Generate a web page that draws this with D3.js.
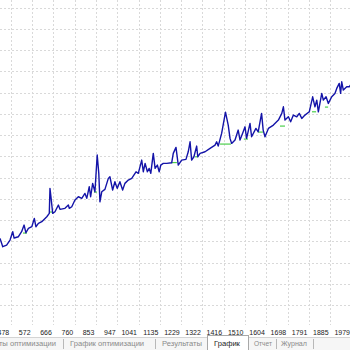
<!DOCTYPE html>
<html>
<head>
<meta charset="utf-8">
<style>
  body { margin: 0; background: #fff; }
  .grid line { stroke: #d9d9d9; stroke-width: 1; stroke-dasharray: 2,2; shape-rendering: crispEdges; }
  .balance { fill: none; stroke: #1414a8; stroke-width: 1.4px; stroke-linejoin: round; }
  .equity { fill: none; stroke: #4ccf4c; stroke-width: 1.2px; }
  .tick-lbl { font: 7px "Liberation Sans Narrow", "Arial Narrow", "Liberation Sans", Arial, sans-serif; fill: #222; }
  .tab { font: 7.6px "Liberation Sans", Arial, sans-serif; fill: #8a8a8a; }
  .tab.active { fill: #1a1a1a; }
</style>
</head>
<body>
<svg width="350" height="350"></svg>
<script src="https://d3js.org/d3.v7.min.js"></script>
<script>
// trade number / balance
var trades = [431,443,460,475,487,493,512,526,537,545,
  556,571,582,589,600,615,637,648,651,656,
  663,673,688,695,717,732,736,747,761,776,
  791,805,813,824,830,839,849,859,866,871,
  879,893,908,915,927,937,947,959,971,981,
  996,1011,1030,1040,1055,1062,1070,1080,1088,1095,
  1106,1114,1124,1132,1139,1150,1165,1187,1194,1206,
  1216,1231,1250,1260,1268,1275,1285,1297,1302,1312,
  1334,1356,1378,1385,1392,1407,1424,1436,1444,1451,
  1466,1480,1488,1502,1510,1517,1532,1539,1558,1568,
  1583,1590,1598,1613,1635,1657,1672,1679,1686,1701,
  1711,1723,1738,1749,1760,1774,1793,1808,1818,1826,
  1833,1848,1855,1867,1877,1892,1906,1914,1925,1931,
  1936,1943,1958,1969,1977];

var balance = [4145,3751,3831,4066,4456,4160,4221,4456,4771,4409,
  4615,4691,5085,4691,4850,4926,5161,5320,6495,6025,
  5320,5396,5711,5508,5555,5711,5555,5631,5946,6101,
  6025,6260,6025,6571,6101,6730,6336,8061,7200,5866,
  6336,6448,6965,7041,6416,6806,6495,6806,6416,6730,
  6886,6965,7276,7200,7826,7276,7670,7276,7435,7200,
  8140,7435,7591,7276,7591,7670,7670,7699,8140,8422,
  7591,7826,7858,8216,8686,7826,7981,8484,7981,8140,
  8216,8375,8531,8686,8484,9080,10082,9471,8845,8610,
  8766,9236,8766,9156,9391,8845,9550,8921,9315,9156,
  10020,9236,8921,9315,9471,9706,10020,10331,9706,9861,
  9626,9941,9861,10020,9785,9941,10096,10801,10331,10646,
  10096,10960,10646,10801,10490,10801,10960,11195,11430,10960,
  11506,11116,11271,11271,11398];

// flat equity stretches under the spikes
var equityStart = [532,647,845,1184,1290,1400,1505,1567,1664,1805,1862];
var equityEnd   = [550,660,858,1210,1303,1448,1523,1589,1686,1823,1876];
var equityLevel = [4395,5382,6322,7708,7981,8578,8813,9142,9424,10096,10317];

var xTicks = [478,572,666,760,853,947,1041,1135,1229,1322,1416,1510,1604,1698,1791,1885,1979];
var yTicks = [1000,2000,3000,4000,5000,6000,7000,8000,9000,10000,11000,12000,13000,14000,15000];

var tabNames = ["Результаты оптимизации", "График оптимизации", "Результаты", "График", "Отчет", "Журнал"];

var svg = d3.select("svg"),
    plotBottom = 325;

var x = d3.scaleLinear().domain([478, 1979]).range([10.7, 351.5]),
    y = d3.scaleLinear().domain([0, 15000]).range([326.5, 7.5]);

svg.append("rect").attr("width", 350).attr("height", 350).attr("fill", "#fff");

var grid = svg.append("g").attr("class", "grid");
grid.selectAll(".v").data(xTicks).enter().append("line")
    .attr("class", "v")
    .attr("x1", function(d) { return Math.round(x(d)) + 0.5; })
    .attr("x2", function(d) { return Math.round(x(d)) + 0.5; })
    .attr("y1", 0).attr("y2", plotBottom);
grid.selectAll(".h").data(yTicks).enter().append("line")
    .attr("class", "h")
    .attr("y1", function(d) { return Math.round(y(d)) + 0.5; })
    .attr("y2", function(d) { return Math.round(y(d)) + 0.5; })
    .attr("x1", 0).attr("x2", 350);

var pts = trades.map(function(t, i) { return [t, balance[i]]; });

svg.append("g").selectAll("line").data(equityStart).enter().append("line")
    .attr("class", "equity")
    .attr("x1", function(d) { return x(d); })
    .attr("x2", function(d, i) { return x(equityEnd[i]); })
    .attr("y1", function(d, i) { return y(equityLevel[i]); })
    .attr("y2", function(d, i) { return y(equityLevel[i]); });

svg.append("path")
    .datum(pts)
    .attr("class", "balance")
    .attr("d", d3.line()
      .x(function(d) { return x(d[0]); })
      .y(function(d) { return y(d[1]); }));

// x axis labels, right aligned to the grid line
svg.append("g").selectAll("text").data(xTicks).enter().append("text")
    .attr("class", "tick-lbl")
    .attr("x", function(d) { return x(d) - 1.5; })
    .attr("y", 334.8)
    .attr("text-anchor", "end")
    .text(function(d) { return d; });

// tab strip
svg.append("rect").attr("x", 0).attr("y", 337).attr("width", 350).attr("height", 13).attr("fill", "#f6f6f6");
svg.append("line").attr("x1", 0).attr("x2", 350).attr("y1", 337.5).attr("y2", 337.5)
    .attr("stroke", "#d4d4d4");

svg.append("rect").attr("x", 207.5).attr("y", 335.5).attr("width", 41).attr("height", 16)
    .attr("fill", "#fff").attr("stroke", "#a8a8a8");

var tabX = [56, 70, 162, 214, 254, 281],
    tabAnchor = ["end", "start", "start", "start", "start", "start"],
    tabW = [0, 0, 0, 0, 18, 26],
    seps = [63, 155, 276, 313];

svg.append("g").selectAll("text").data(tabNames).enter().append("text")
    .attr("class", function(d, i) { return i === 3 ? "tab active" : "tab"; })
    .attr("x", function(d, i) { return tabX[i]; })
    .attr("y", 346)
    .attr("text-anchor", function(d, i) { return tabAnchor[i]; })
    .each(function(d, i) {
      if (tabW[i]) d3.select(this).attr("textLength", tabW[i]).attr("lengthAdjust", "spacingAndGlyphs");
    })
    .text(function(d) { return d; });

svg.append("g").selectAll("line").data(seps).enter().append("line")
    .attr("x1", function(d) { return d + 0.5; }).attr("x2", function(d) { return d + 0.5; })
    .attr("y1", 339).attr("y2", 349)
    .attr("stroke", "#b8b8b8");
</script>
</body>
</html>
